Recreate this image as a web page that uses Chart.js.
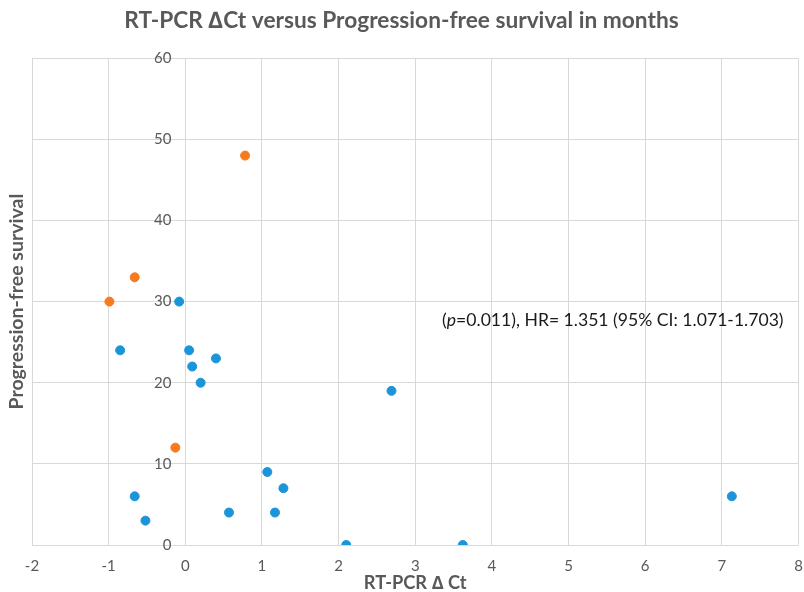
<!DOCTYPE html>
<html>
<head>
<meta charset="utf-8">
<script src="https://cdn.jsdelivr.net/npm/chart.js@4/dist/chart.umd.min.js"></script>
<style>
  html, body { margin: 0; padding: 0; background: #fff; }
  #wrap { width: 804px; height: 592px; }
</style>
</head>
<body>
<div id="wrap"><canvas id="chart" width="804" height="592"></canvas></div>
<script>
// RT-PCR delta Ct (x) vs progression-free survival in months (y)
const blueX = [-0.08, -0.85, 0.05, 0.09, 0.2, 0.4, 2.69, 1.07, 1.28, 1.17, 0.57, -0.66, -0.52, 2.1, 3.62, 7.13];
const blueY = [30, 24, 24, 22, 20, 23, 19, 9, 7, 4, 4, 6, 3, 0, 0, 6];
const orangeX = [-0.99, -0.66, 0.78, -0.13];
const orangeY = [30, 33, 48, 12];

const xTicks = [-2, -1, 0, 1, 2, 3, 4, 5, 6, 7, 8];
const yTicks = [0, 10, 20, 30, 40, 50, 60];

const statsText = ['(', 'p', '=0.011), HR= 1.351 (95% CI: 1.071-1.703)'];
const statsAt = { x: 3.35, y: 27.7 };

const FONT = 'Lato, "Open Sans", sans-serif';
const GREY = '#595959';
const GRID = '#d9d9d9';

const toPoints = (xs, ys) => xs.map((x, i) => ({ x: x, y: ys[i] }));

// the stats note, anchored in data space
const statsNote = {
  id: 'statsNote',
  afterDatasetsDraw(chart) {
    const { ctx, scales } = chart;
    let px = scales.x.getPixelForValue(statsAt.x);
    const py = scales.y.getPixelForValue(statsAt.y);
    ctx.save();
    ctx.fillStyle = '#1a1a1a';
    ctx.textBaseline = 'middle';
    ctx.textAlign = 'left';
    statsText.forEach((part, i) => {
      ctx.font = (i === 1 ? 'italic ' : '') + '17.6px ' + FONT;
      ctx.fillText(part, px, py);
      px += ctx.measureText(part).width;
    });
    ctx.restore();
  }
};

new Chart(document.getElementById('chart'), {
  type: 'scatter',
  data: {
    datasets: [{
      label: 'blue',
      data: toPoints(blueX, blueY),
      backgroundColor: '#1b95d9',
      borderColor: '#1b95d9',
      pointRadius: 4.5,
      pointHoverRadius: 4.5,
    }, {
      label: 'orange',
      data: toPoints(orangeX, orangeY),
      backgroundColor: '#f77a1f',
      borderColor: '#f77a1f',
      pointRadius: 4.5,
      pointHoverRadius: 4.5,
    }],
  },
  options: {
    responsive: false,
    maintainAspectRatio: false,
    animation: false,
    events: [],
    layout: { padding: { left: 2, right: 3, top: 0, bottom: 0 } },
    plugins: {
      legend: { display: false },
      tooltip: { enabled: false },
      title: {
        display: true,
        text: 'RT-PCR \u2206Ct versus Progression-free survival in months',
        color: GREY,
        font: { family: FONT, size: 22.7, weight: 'bold' },
        padding: { top: 7, bottom: 24 },
      },
    },
    scales: {
      x: {
        type: 'linear',
        min: -2,
        max: 8,
        afterBuildTicks: (axis) => { axis.ticks = xTicks.map(v => ({ value: v })); },
        afterFit: (axis) => { axis.height = 47; axis.paddingLeft = 0; axis.paddingRight = 0; },
        grid: { color: GRID, drawTicks: false },
        border: { display: false },
        ticks: { color: GREY, font: { family: FONT, size: 15 }, padding: 12 },
        title: {
          display: true,
          text: 'RT-PCR \u2206 Ct',
          color: GREY,
          font: { family: FONT, size: 18.3, weight: 'bold' },
          padding: { top: 0, bottom: -2 },
        },
      },
      y: {
        type: 'linear',
        position: { x: -0.18 },
        min: 0,
        max: 60,
        afterBuildTicks: (axis) => { axis.ticks = yTicks.map(v => ({ value: v })); },
        grid: { color: GRID, drawTicks: false },
        border: { display: false },
        ticks: { color: GREY, font: { family: FONT, size: 15 }, padding: 0 },
      },
      yTitle: {
        type: 'linear',
        position: 'left',
        min: 0,
        max: 60,
        afterFit: (axis) => { axis.width = 30; },
        grid: { display: false },
        border: { display: false },
        ticks: { display: false },
        title: {
          display: true,
          text: 'Progression-free survival',
          color: GREY,
          font: { family: FONT, size: 19.5, weight: 'bold' },
          padding: { top: 3, bottom: 4 },
        },
      },
    },
  },
  plugins: [statsNote],
});
</script>
</body>
</html>
